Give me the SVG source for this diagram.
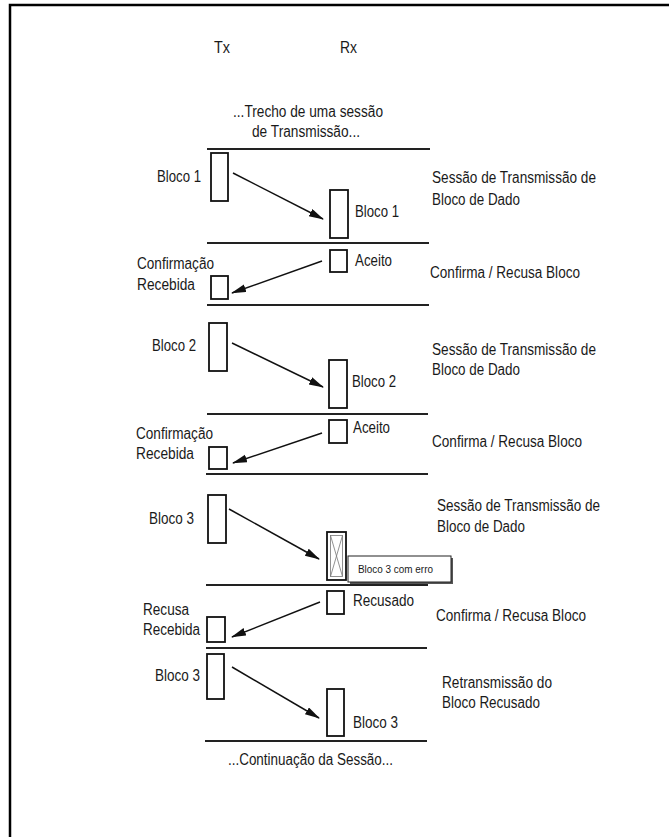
<svg xmlns="http://www.w3.org/2000/svg" width="669" height="837" viewBox="0 0 669 837">
<style>
text{font-family:"Liberation Sans",Arial,sans-serif;font-size:16px;fill:#1a1a1a}
.small{font-size:10px}
.box{fill:#fff;stroke:#111;stroke-width:1.8}
.sep{stroke:#222;stroke-width:2}
.arr{stroke:#111;stroke-width:1.5;fill:none;marker-end:url(#ah)}
.frame{stroke:#000;stroke-width:2.5;fill:none}
</style>
<defs>
<marker id="ah" markerUnits="userSpaceOnUse" markerWidth="15" markerHeight="10" refX="14" refY="4" orient="auto">
<path d="M0,0 L15,4 L0,8 Z" fill="#111"/>
</marker>
</defs>
<rect width="669" height="837" fill="#fff"/>
<path class="frame" d="M10,837 L10,5 L669,5"/>

<g id="headers">
<text x="214" y="53" textLength="16" lengthAdjust="spacingAndGlyphs">Tx</text>
<text x="340" y="53" textLength="17" lengthAdjust="spacingAndGlyphs">Rx</text>
<text x="233" y="117" textLength="150" lengthAdjust="spacingAndGlyphs">...Trecho de uma sessão</text>
<text x="252" y="137" textLength="108" lengthAdjust="spacingAndGlyphs">de Transmissão...</text>
</g>

<g id="separators">
<line class="sep" x1="207" y1="149" x2="430" y2="149"/>
<line class="sep" x1="207" y1="243" x2="429" y2="243"/>
<line class="sep" x1="207" y1="305" x2="429" y2="305"/>
<line class="sep" x1="207" y1="414" x2="428" y2="414"/>
<line class="sep" x1="206" y1="474" x2="428" y2="474"/>
<line class="sep" x1="206" y1="585" x2="428" y2="585"/>
<line class="sep" x1="206" y1="648" x2="427" y2="648"/>
<line class="sep" x1="205" y1="741" x2="427" y2="741"/>
</g>

<g id="connectors">
<line class="arr" x1="233" y1="173" x2="323" y2="219"/>
<line class="arr" x1="322" y1="261" x2="232" y2="293"/>
<line class="arr" x1="232" y1="343" x2="323" y2="387"/>
<line class="arr" x1="322" y1="433" x2="233" y2="463"/>
<line class="arr" x1="229" y1="509" x2="319" y2="559"/>
<line class="arr" x1="320" y1="602" x2="232" y2="637"/>
<line class="arr" x1="232" y1="667" x2="319" y2="718"/>
</g>

<g id="tx-bloco1">
<rect class="box" x="211" y="153" width="17" height="48"/>
<text x="157" y="182" textLength="44" lengthAdjust="spacingAndGlyphs">Bloco 1</text>
</g>
<g id="rx-bloco1">
<rect class="box" x="330" y="190" width="18" height="48"/>
<text x="355" y="217" textLength="44" lengthAdjust="spacingAndGlyphs">Bloco 1</text>
</g>
<g id="rx-aceito1">
<rect class="box" x="330" y="250" width="17" height="22"/>
<text x="355" y="266" textLength="37" lengthAdjust="spacingAndGlyphs">Aceito</text>
</g>
<g id="tx-conf1">
<rect class="box" x="211" y="276" width="17" height="23"/>
<text x="137" y="269" textLength="77" lengthAdjust="spacingAndGlyphs">Confirmação</text>
<text x="137" y="290" textLength="58" lengthAdjust="spacingAndGlyphs">Recebida</text>
</g>
<g id="desc1">
<text x="432" y="183" textLength="164" lengthAdjust="spacingAndGlyphs">Sessão de Transmissão de</text>
<text x="432" y="205" textLength="88" lengthAdjust="spacingAndGlyphs">Bloco de Dado</text>
<text x="430" y="278" textLength="150" lengthAdjust="spacingAndGlyphs">Confirma / Recusa Bloco</text>
</g>

<g id="tx-bloco2">
<rect class="box" x="209" y="323" width="18" height="48"/>
<text x="152" y="351" textLength="44" lengthAdjust="spacingAndGlyphs">Bloco 2</text>
</g>
<g id="rx-bloco2">
<rect class="box" x="329" y="360" width="18" height="48"/>
<text x="352" y="387" textLength="44" lengthAdjust="spacingAndGlyphs">Bloco 2</text>
</g>
<g id="rx-aceito2">
<rect class="box" x="329" y="420" width="18" height="23"/>
<text x="353" y="433" textLength="37" lengthAdjust="spacingAndGlyphs">Aceito</text>
</g>
<g id="tx-conf2">
<rect class="box" x="209" y="447" width="18" height="22"/>
<text x="136" y="439" textLength="77" lengthAdjust="spacingAndGlyphs">Confirmação</text>
<text x="136" y="459" textLength="58" lengthAdjust="spacingAndGlyphs">Recebida</text>
</g>
<g id="desc2">
<text x="432" y="355" textLength="164" lengthAdjust="spacingAndGlyphs">Sessão de Transmissão de</text>
<text x="432" y="375" textLength="88" lengthAdjust="spacingAndGlyphs">Bloco de Dado</text>
<text x="432" y="447" textLength="150" lengthAdjust="spacingAndGlyphs">Confirma / Recusa Bloco</text>
</g>

<g id="tx-bloco3">
<rect class="box" x="208" y="495" width="18" height="48"/>
<text x="149" y="524" textLength="45" lengthAdjust="spacingAndGlyphs">Bloco 3</text>
</g>
<g id="rx-bloco3-erro">
<rect class="box" x="327" y="532" width="19" height="48"/>
<rect x="330.5" y="535.5" width="12" height="41" fill="none" stroke="#777" stroke-width="0.8"/>
<line x1="330.5" y1="535.5" x2="342.5" y2="576.5" stroke="#777" stroke-width="0.8"/>
<line x1="342.5" y1="535.5" x2="330.5" y2="576.5" stroke="#777" stroke-width="0.8"/>
</g>
<g id="callout-erro">
<rect x="350" y="558" width="103" height="26" fill="#555"/>
<rect x="348" y="556" width="103" height="26" fill="#fff" stroke="#222" stroke-width="1"/>
<text class="small" x="358" y="573" textLength="75" lengthAdjust="spacingAndGlyphs">Bloco 3 com erro</text>
</g>
<g id="rx-recusado">
<rect class="box" x="327" y="591" width="17" height="23"/>
<text x="353" y="606" textLength="61" lengthAdjust="spacingAndGlyphs">Recusado</text>
</g>
<g id="tx-recusa">
<rect class="box" x="207" y="617" width="18" height="25"/>
<text x="143" y="615" textLength="46" lengthAdjust="spacingAndGlyphs">Recusa</text>
<text x="143" y="635" textLength="57" lengthAdjust="spacingAndGlyphs">Recebida</text>
</g>
<g id="desc3">
<text x="437" y="511" textLength="163" lengthAdjust="spacingAndGlyphs">Sessão de Transmissão de</text>
<text x="437" y="532" textLength="88" lengthAdjust="spacingAndGlyphs">Bloco de Dado</text>
<text x="436" y="621" textLength="150" lengthAdjust="spacingAndGlyphs">Confirma / Recusa Bloco</text>
</g>

<g id="tx-bloco3-retx">
<rect class="box" x="207" y="654" width="17" height="45"/>
<text x="155" y="681" textLength="45" lengthAdjust="spacingAndGlyphs">Bloco 3</text>
</g>
<g id="rx-bloco3-retx">
<rect class="box" x="327" y="689" width="17" height="47"/>
<text x="353" y="728" textLength="45" lengthAdjust="spacingAndGlyphs">Bloco 3</text>
</g>
<g id="desc4">
<text x="442" y="688" textLength="110" lengthAdjust="spacingAndGlyphs">Retransmissão do</text>
<text x="442" y="708" textLength="98" lengthAdjust="spacingAndGlyphs">Bloco Recusado</text>
</g>

<g id="footer">
<text x="228" y="765" textLength="165" lengthAdjust="spacingAndGlyphs">...Continuação da Sessão...</text>
</g>
</svg>
